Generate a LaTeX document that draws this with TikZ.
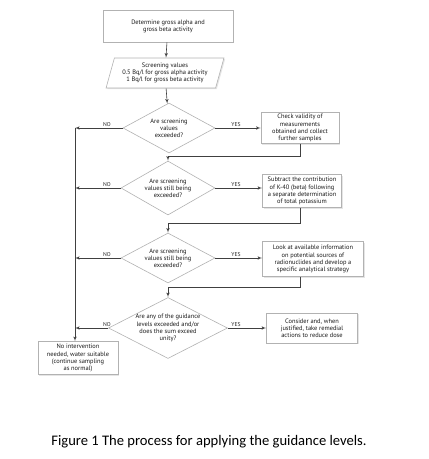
\documentclass[tikz,border=0pt]{standalone}
\usepackage{fontspec}
\setmainfont{Carlito}
\newfontfamily\flowfont{PT Sans}
\usetikzlibrary{arrows,shapes.geometric,shadows}
\tikzset{
  flownode/.style = {align=center, text centered, font=\flowfont\fontsize{6.4}{7.1}\selectfont,
    draw=gray!60, fill=white, inner sep=1pt, text=black!90},
  box_n/.style = {flownode, rectangle, inner ysep=0.5pt,
    drop shadow={shadow xshift=1.2pt, shadow yshift=-1.2pt, fill=gray!40}},% process box
  io_n/.style = {flownode, trapezium, trapezium left angle=72, trapezium right angle=108,
    trapezium stretches=true,
    drop shadow={shadow xshift=1.2pt, shadow yshift=-1.2pt, fill=gray!40}},% input box
  dec_n/.style = {flownode, diamond, inner sep=-10pt},% decision
  lbl_n/.style = {font=\flowfont\fontsize{5.6}{6}\selectfont, inner sep=1pt, text=black!85},
}

\begin{document}
\begin{tikzpicture}[x=1pt,y=-1pt,->,>=latex',line width=0.6pt,draw=black!75]
\useasboundingbox (0,0) rectangle (429,459);
% main column
\node [box_n, minimum width=130pt, minimum height=32pt] (start) at (168,26)
  {Determine gross alpha and\\gross beta activity};
\node [io_n, minimum width=118pt, minimum height=30pt] (screen) at (165,73)
  {Screening values\\0.5 Bq/l for gross alpha activity\\1 Bq/l for gross beta activity};
\node [dec_n, minimum width=92pt, minimum height=50pt] (d1) at (169,128)
  {Are screening\\values\\exceeded?};
\node [dec_n, minimum width=94pt, minimum height=54pt] (d2) at (168,188)
  {Are screening\\values still being\\exceeded?};
\node [dec_n, minimum width=94pt, minimum height=50pt] (d3) at (168,258)
  {Are screening\\values still being\\exceeded?};
\node [dec_n, minimum width=119pt, minimum height=61pt] (d4) at (168,328)
  {Are any of the guidance\\levels exceeded and/or\\does the sum exceed\\unity?};
% right column
\node [box_n, minimum width=78pt, minimum height=31pt] (check) at (300,128)
  {Check validity of\\measurements\\obtained and collect\\further samples};
\node [box_n, minimum width=79pt, minimum height=33pt] (sub) at (302,191)
  {Subtract the contribution\\of K-40 (beta) following\\a separate determination\\of total potassium};
\node [box_n, minimum width=101pt, minimum height=35pt] (look) at (313,259)
  {Look at available information\\on potential sources of\\radionuclides and develop a\\specific analytical strategy};
\node [box_n, minimum width=91pt, minimum height=30pt] (consider) at (312,328)
  {Consider and, when\\justified, take remedial\\actions to reduce dose};
% exit
\node [box_n, minimum width=80pt, minimum height=33pt] (noint) at (78,358)
  {No intervention\\needed, water suitable\\(continue sampling\\as normal)};
\coordinate (left) at (75,128);
\coordinate (nolbl) at (107,0);
\coordinate (yeslbl) at (236,0);

% connectors
\draw (start) -- (screen);
\draw (screen) -- (d1);
\draw (d1.east) -- (check.west |- d1.east);
\draw (d2.east) -- (sub.west |- d2.east);
\draw (d3.east) -- (look.west |- d3.east);
\draw (d4.east) -- (consider.west |- d4.east);
\draw (check.south) -- ++(0,12) -| (d2.north);
\draw ([xshift=-2pt]sub.south) -- ++(0,15) -| (d3.north);
\draw ([xshift=-13pt]look.south) -- ++(0,10) -| (d4.north);
\foreach \d in {d1,d2,d3,d4}{
  \draw (\d.west) -- (\d.west -| left);
  \node [lbl_n, above] at (\d.west -| nolbl) {NO};
  \node [lbl_n, above] at (\d.east -| yeslbl) {YES};
}
\draw (left) -- (left |- noint.north);

% caption
\node [font=\fontsize{14.6}{16}\selectfont, text=black] (caption) at (209,442)
  {Figure 1 The process for applying the guidance levels.};
\end{tikzpicture}
\end{document}
